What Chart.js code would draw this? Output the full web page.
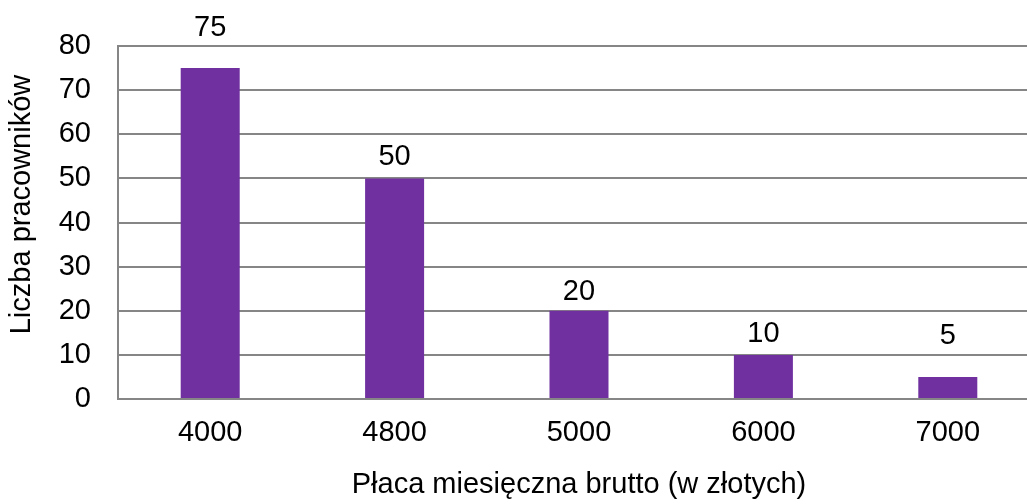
<!DOCTYPE html>
<html lang="pl">
<head>
  <meta charset="UTF-8" />
  <title>Płaca miesięczna brutto</title>
  <script src="https://cdn.jsdelivr.net/npm/chart.js"></script>
  <style>
    html, body { margin: 0; padding: 0; overflow: hidden; background: #fff; }
    #wrap { width: 1040px; height: 504px; }
  </style>
</head>
<body>
  <div id="wrap"><canvas id="salaryChart"></canvas></div>

  <script>
    // Dane z wykresu
    const categories = ["4000", "4800", "5000", "6000", "7000"];
    const employees = [75, 50, 20, 10, 5];
    const yTicks = [0, 10, 20, 30, 40, 50, 60, 70, 80];
    const xTitle = "Płaca miesięczna brutto (w złotych)";
    const yTitle = "Liczba pracowników";

    const fontFamily = "'Liberation Sans', Arial, sans-serif";
    const gridColor = "#868686";

    // Etykiety wartości nad słupkami (przesunięcie środka tekstu nad słupkiem, px)
    const valueLabels = {
      id: "valueLabels",
      afterDatasetsDraw(chart, args, opts) {
        const ctx = chart.ctx;
        const meta = chart.getDatasetMeta(0);
        ctx.save();
        ctx.font = "29px " + fontFamily;
        ctx.fillStyle = "#000";
        ctx.textAlign = "center";
        ctx.textBaseline = "middle";
        meta.data.forEach((bar, i) => {
          ctx.fillText(String(employees[i]), bar.x, bar.y - opts.lift[i]);
        });
        ctx.restore();
      }
    };

    // Tytuł osi Y rysowany ręcznie (w oryginale nieco powyżej środka)
    const yAxisTitle = {
      id: "yAxisTitle",
      afterDraw(chart, args, opts) {
        const ctx = chart.ctx;
        const area = chart.chartArea;
        ctx.save();
        ctx.translate(opts.x, (area.top + area.bottom) / 2 - opts.shift);
        ctx.rotate(-Math.PI / 2);
        ctx.font = "29px " + fontFamily;
        ctx.fillStyle = "#000";
        ctx.textAlign = "center";
        ctx.textBaseline = "middle";
        ctx.fillText(yTitle, 0, 0);
        ctx.restore();
      }
    };

    new Chart(document.getElementById("salaryChart"), {
      type: "bar",
      data: {
        labels: categories,
        datasets: [{
          data: employees,
          backgroundColor: "#7030A0",
          borderWidth: 0,
          barPercentage: 0.32,
          categoryPercentage: 1
        }]
      },
      options: {
        responsive: true,
        maintainAspectRatio: false,
        animation: false,
        layout: { padding: { top: 46, right: 0, bottom: 0, left: 0 } },
        plugins: {
          legend: { display: false },
          tooltip: { enabled: false },
          valueLabels: { lift: [40, 21, 19, 21, 41] },
          yAxisTitle: { x: 22, shift: 18 }
        },
        scales: {
          x: {
            grid: { display: false, drawTicks: false },
            border: { color: gridColor, width: 2 },
            ticks: {
              color: "#000",
              padding: 17,
              font: { family: fontFamily, size: 29 }
            },
            title: {
              display: true,
              text: xTitle,
              color: "#000",
              padding: { top: 0, bottom: 2 },
              font: { family: fontFamily, size: 29 }
            },
            afterFit(scale) { scale.height = 105; }
          },
          y: {
            min: 0,
            max: 80,
            afterBuildTicks(scale) {
              scale.ticks = yTicks.map(v => ({ value: v }));
            },
            grid: { color: gridColor, lineWidth: 2, drawTicks: false },
            border: { color: gridColor, width: 2 },
            ticks: {
              color: "#000",
              padding: 27,
              font: { family: fontFamily, size: 29 }
            },
            afterFit(scale) { scale.width = 118; }
          }
        }
      },
      plugins: [valueLabels, yAxisTitle]
    });
  </script>
</body>
</html>
